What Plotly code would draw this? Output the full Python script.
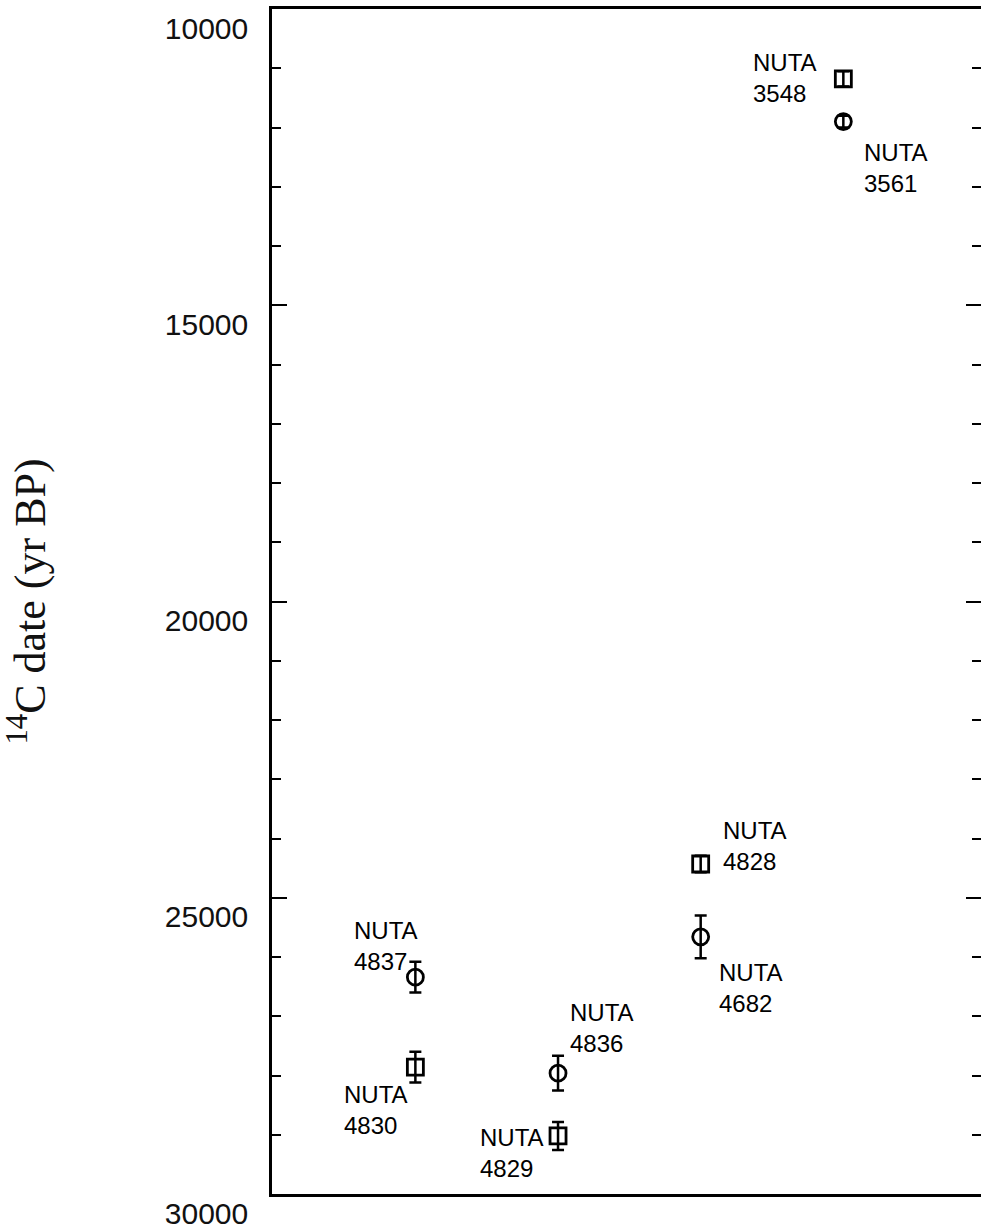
import plotly.graph_objects as go

# ---- data ----
sample_ids = ["3548", "3561", "4828", "4682", "4837", "4830", "4836", "4829"]
x_pos      = [8, 8, 6, 6, 2, 2, 4, 4]
c14_date   = [11180, 11900, 24430, 25660, 26340, 27860, 27960, 29020]
c14_error  = [130, 100, 140, 360, 260, 260, 295, 236]
fraction   = ["square", "circle", "square", "circle", "circle", "square", "circle", "square"]

y_tick_vals = [10000, 15000, 20000, 25000, 30000]

# label offsets (pixels, relative to point) - style only
label_dx = [-92, 19, 20, 16, -63, -73, 10, -80]
label_dy = [1, -46, 18, -51, 31, -43, 45, -17]

W, H = 981, 1228
ML, MR, MT, MB = 272, 0, 9, 34

fig = go.Figure()

for shape in ["square", "circle"]:
    idx = [i for i, f in enumerate(fraction) if f == shape]
    fig.add_trace(go.Scatter(
        x=[x_pos[i] for i in idx],
        y=[c14_date[i] for i in idx],
        mode="markers",
        marker=dict(symbol=shape + "-open", size=16,
                    color="black", line=dict(width=2.8, color="black")),
        error_y=dict(type="data", array=[c14_error[i] for i in idx],
                     visible=True, color="black", thickness=2.5, width=6),
        showlegend=False,
        hoverinfo="skip",
    ))

for i, sid in enumerate(sample_ids):
    fig.add_annotation(
        x=x_pos[i], y=c14_date[i],
        text="NUTA<br>" + sid,
        showarrow=False,
        xanchor="left", yanchor="middle", align="left",
        xshift=label_dx[i], yshift=label_dy[i],
        font=dict(family="Liberation Sans, Arial, sans-serif", size=24, color="black"),
    )

fig.update_layout(
    width=W, height=H,
    margin=dict(l=ML, r=MR, t=MT, b=MB, pad=0),
    paper_bgcolor="white", plot_bgcolor="white",
    xaxis=dict(range=[-0.01, 9.93], showgrid=False, zeroline=False,
               showticklabels=False, ticks="", showline=True, mirror=True,
               linecolor="black", linewidth=2.5, fixedrange=True),
    yaxis=dict(range=[30000, 10000], showgrid=False, zeroline=False,
               tickmode="array", tickvals=y_tick_vals,
               ticktext=[str(v) for v in y_tick_vals],
               ticks="inside", ticklen=15, tickwidth=2, tickcolor="black",
               minor=dict(dtick=1000, tick0=10000, ticks="inside", ticklen=9,
                          tickwidth=2, tickcolor="black"),
               showline=True, mirror="allticks", linecolor="black", linewidth=2.5,
               tickfont=dict(family="Liberation Sans, Arial, sans-serif", size=30, color="#111"),
               ticklabelshift=-19,
               ticklabelstandoff=15,
               ticklabeloverflow="allow",
               title=dict(text="<sup>14</sup>C date (yr BP)",
                          font=dict(family="Liberation Serif, Times New Roman, serif",
                                    size=44, color="#111"),
                          standoff=111),
               automargin=False),
)

fig.write_html("out.html")
